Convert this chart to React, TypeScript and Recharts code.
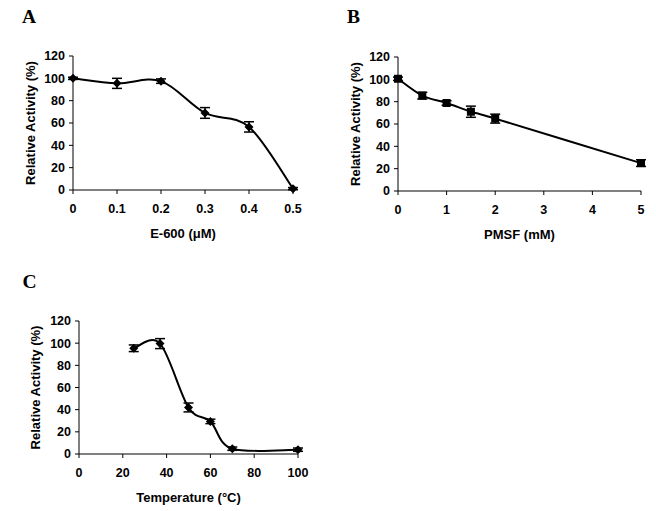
import { LineChart, Line, XAxis, YAxis, ErrorBar } from "recharts";

// panel A: E-600 inhibition
const e600Conc = [0, 0.1, 0.2, 0.3, 0.4, 0.5];
const e600Activity = [100, 95.5, 97.5, 69, 56.5, 1.2];
const e600Err = [1, 4.5, 2, 4.8, 4.6, 1];
const e600Ticks = [0, 0.1, 0.2, 0.3, 0.4, 0.5];

// panel B: PMSF inhibition
const pmsfConc = [0, 0.5, 1, 1.5, 2, 5];
const pmsfActivity = [100.5, 85.4, 78.8, 71, 64.8, 25];
const pmsfErr = [1.5, 3, 2, 5, 4, 3];
const pmsfTicks = [0, 1, 2, 3, 4, 5];

// panel C: temperature
const tempC = [25, 37, 50, 60, 70, 100];
const tempActivity = [95.4, 99.6, 42, 29.4, 4.8, 3.9];
const tempErr = [3, 4.5, 4, 2, 1.5, 1.5];
const tempTicks = [0, 20, 40, 60, 80, 100];

const activityTicks = [0, 20, 40, 60, 80, 100, 120];

const font = "'Liberation Sans', Arial, sans-serif";
const tickStyle = { fontSize: 12.5, fontWeight: 700, fill: "#000", fontFamily: font };
const titleStyle = { fontSize: 13, fontWeight: 700, fill: "#000", fontFamily: font };

const toRows = (xs: number[], ys: number[], errs: number[]) =>
  xs.map((x, i) => ({ x, y: ys[i], err: errs[i] }));

// Excel-style smoothed line (Catmull-Rom through the points)
const smooth = (ctx: any) => {
  let pts: number[][] = [];
  return {
    areaStart() {},
    areaEnd() {},
    lineStart() {
      pts = [];
    },
    point(x: number, y: number) {
      pts.push([+x, +y]);
    },
    lineEnd() {
      const n = pts.length;
      if (!n) return;
      ctx.moveTo(pts[0][0], pts[0][1]);
      for (let i = 0; i < n - 1; i++) {
        const p0 = pts[Math.max(i - 1, 0)];
        const p1 = pts[i];
        const p2 = pts[i + 1];
        const p3 = pts[Math.min(i + 2, n - 1)];
        ctx.bezierCurveTo(
          p1[0] + (p2[0] - p0[0]) / 6,
          p1[1] + (p2[1] - p0[1]) / 6,
          p2[0] - (p3[0] - p1[0]) / 6,
          p2[1] - (p3[1] - p1[1]) / 6,
          p2[0],
          p2[1]
        );
      }
    },
  };
};

const diamond = (props: any) => {
  const { cx, cy, index } = props;
  const r = 4.5;
  return (
    <path
      key={`d-${index}`}
      d={`M${cx},${cy - r}L${cx + r},${cy}L${cx},${cy + r}L${cx - r},${cy}Z`}
      fill="#000"
    />
  );
};

const square = (props: any) => {
  const { cx, cy, index } = props;
  return <rect key={`s-${index}`} x={cx - 4} y={cy - 4} width={8} height={8} fill="#000" />;
};

function Panel({
  rows,
  ticks,
  domain,
  xTitle,
  dot,
  width,
  height,
  margin,
  yAxisWidth,
  yTitleOffset,
}: {
  rows: { x: number; y: number; err: number }[];
  ticks: number[];
  domain: [number, number];
  xTitle: string;
  dot: any;
  width: number;
  height: number;
  margin: { top: number; right: number; bottom: number; left: number };
  yAxisWidth: number;
  yTitleOffset: number;
}) {
  return (
    <LineChart width={width} height={height} data={rows} margin={margin}>
      <XAxis
        dataKey="x"
        type="number"
        domain={domain}
        ticks={ticks}
        interval={0}
        tick={tickStyle}
        tickSize={4}
        tickMargin={10}
        stroke="#000"
        height={50}
        label={{ value: xTitle, position: "insideBottom", offset: 2, style: titleStyle }}
      />
      <YAxis
        type="number"
        domain={[0, 120]}
        ticks={activityTicks}
        interval={0}
        tick={tickStyle}
        tickSize={4}
        tickMargin={4}
        stroke="#000"
        width={yAxisWidth}
        label={{
          value: "Relative Activity (%)",
          angle: -90,
          position: "insideLeft",
          offset: yTitleOffset,
          style: { ...titleStyle, textAnchor: "middle" },
        }}
      />
      <Line
        dataKey="y"
        type={smooth as any}
        stroke="#000"
        strokeWidth={2}
        dot={dot}
        activeDot={false}
        isAnimationActive={false}
      >
        <ErrorBar dataKey="err" direction="y" width={5} stroke="#000" strokeWidth={1.5} />
      </Line>
    </LineChart>
  );
}

export default function App() {
  const letter = {
    fontFamily: "'Liberation Serif', 'Times New Roman', serif",
    fontWeight: 700,
    fontSize: 19.5,
    fill: "#000",
  };
  return (
    <div
      style={{
        position: "absolute",
        left: 0,
        top: 0,
        width: 656,
        height: 511,
        background: "#fff",
        overflow: "hidden",
      }}
    >
      <div style={{ position: "absolute", left: 0, top: 0 }}>
        <Panel
          rows={toRows(e600Conc, e600Activity, e600Err)}
          ticks={e600Ticks}
          domain={[0, 0.5]}
          xTitle="E-600 (μM)"
          dot={diamond}
          width={330}
          height={250}
          margin={{ top: 56, right: 37, bottom: 10, left: 0 }}
          yAxisWidth={73}
          yTitleOffset={30}
        />
      </div>
      <div style={{ position: "absolute", left: 330, top: 0 }}>
        <Panel
          rows={toRows(pmsfConc, pmsfActivity, pmsfErr)}
          ticks={pmsfTicks}
          domain={[0, 5]}
          xTitle="PMSF (mM)"
          dot={square}
          width={326}
          height={250}
          margin={{ top: 57, right: 15, bottom: 9, left: 0 }}
          yAxisWidth={68}
          yTitleOffset={25}
        />
      </div>
      <div style={{ position: "absolute", left: 0, top: 250 }}>
        <Panel
          rows={toRows(tempC, tempActivity, tempErr)}
          ticks={tempTicks}
          domain={[0, 100]}
          xTitle="Temperature (°C)"
          dot={diamond}
          width={330}
          height={261}
          margin={{ top: 71, right: 32, bottom: 7, left: 0 }}
          yAxisWidth={79}
          yTitleOffset={35}
        />
      </div>
      <svg
        width={656}
        height={511}
        style={{ position: "absolute", left: 0, top: 0, pointerEvents: "none" }}
      >
        <text x={22} y={23} style={letter}>A</text>
        <text x={347} y={23} style={letter}>B</text>
        <text x={22.5} y={288} style={letter}>C</text>
      </svg>
    </div>
  );
}
